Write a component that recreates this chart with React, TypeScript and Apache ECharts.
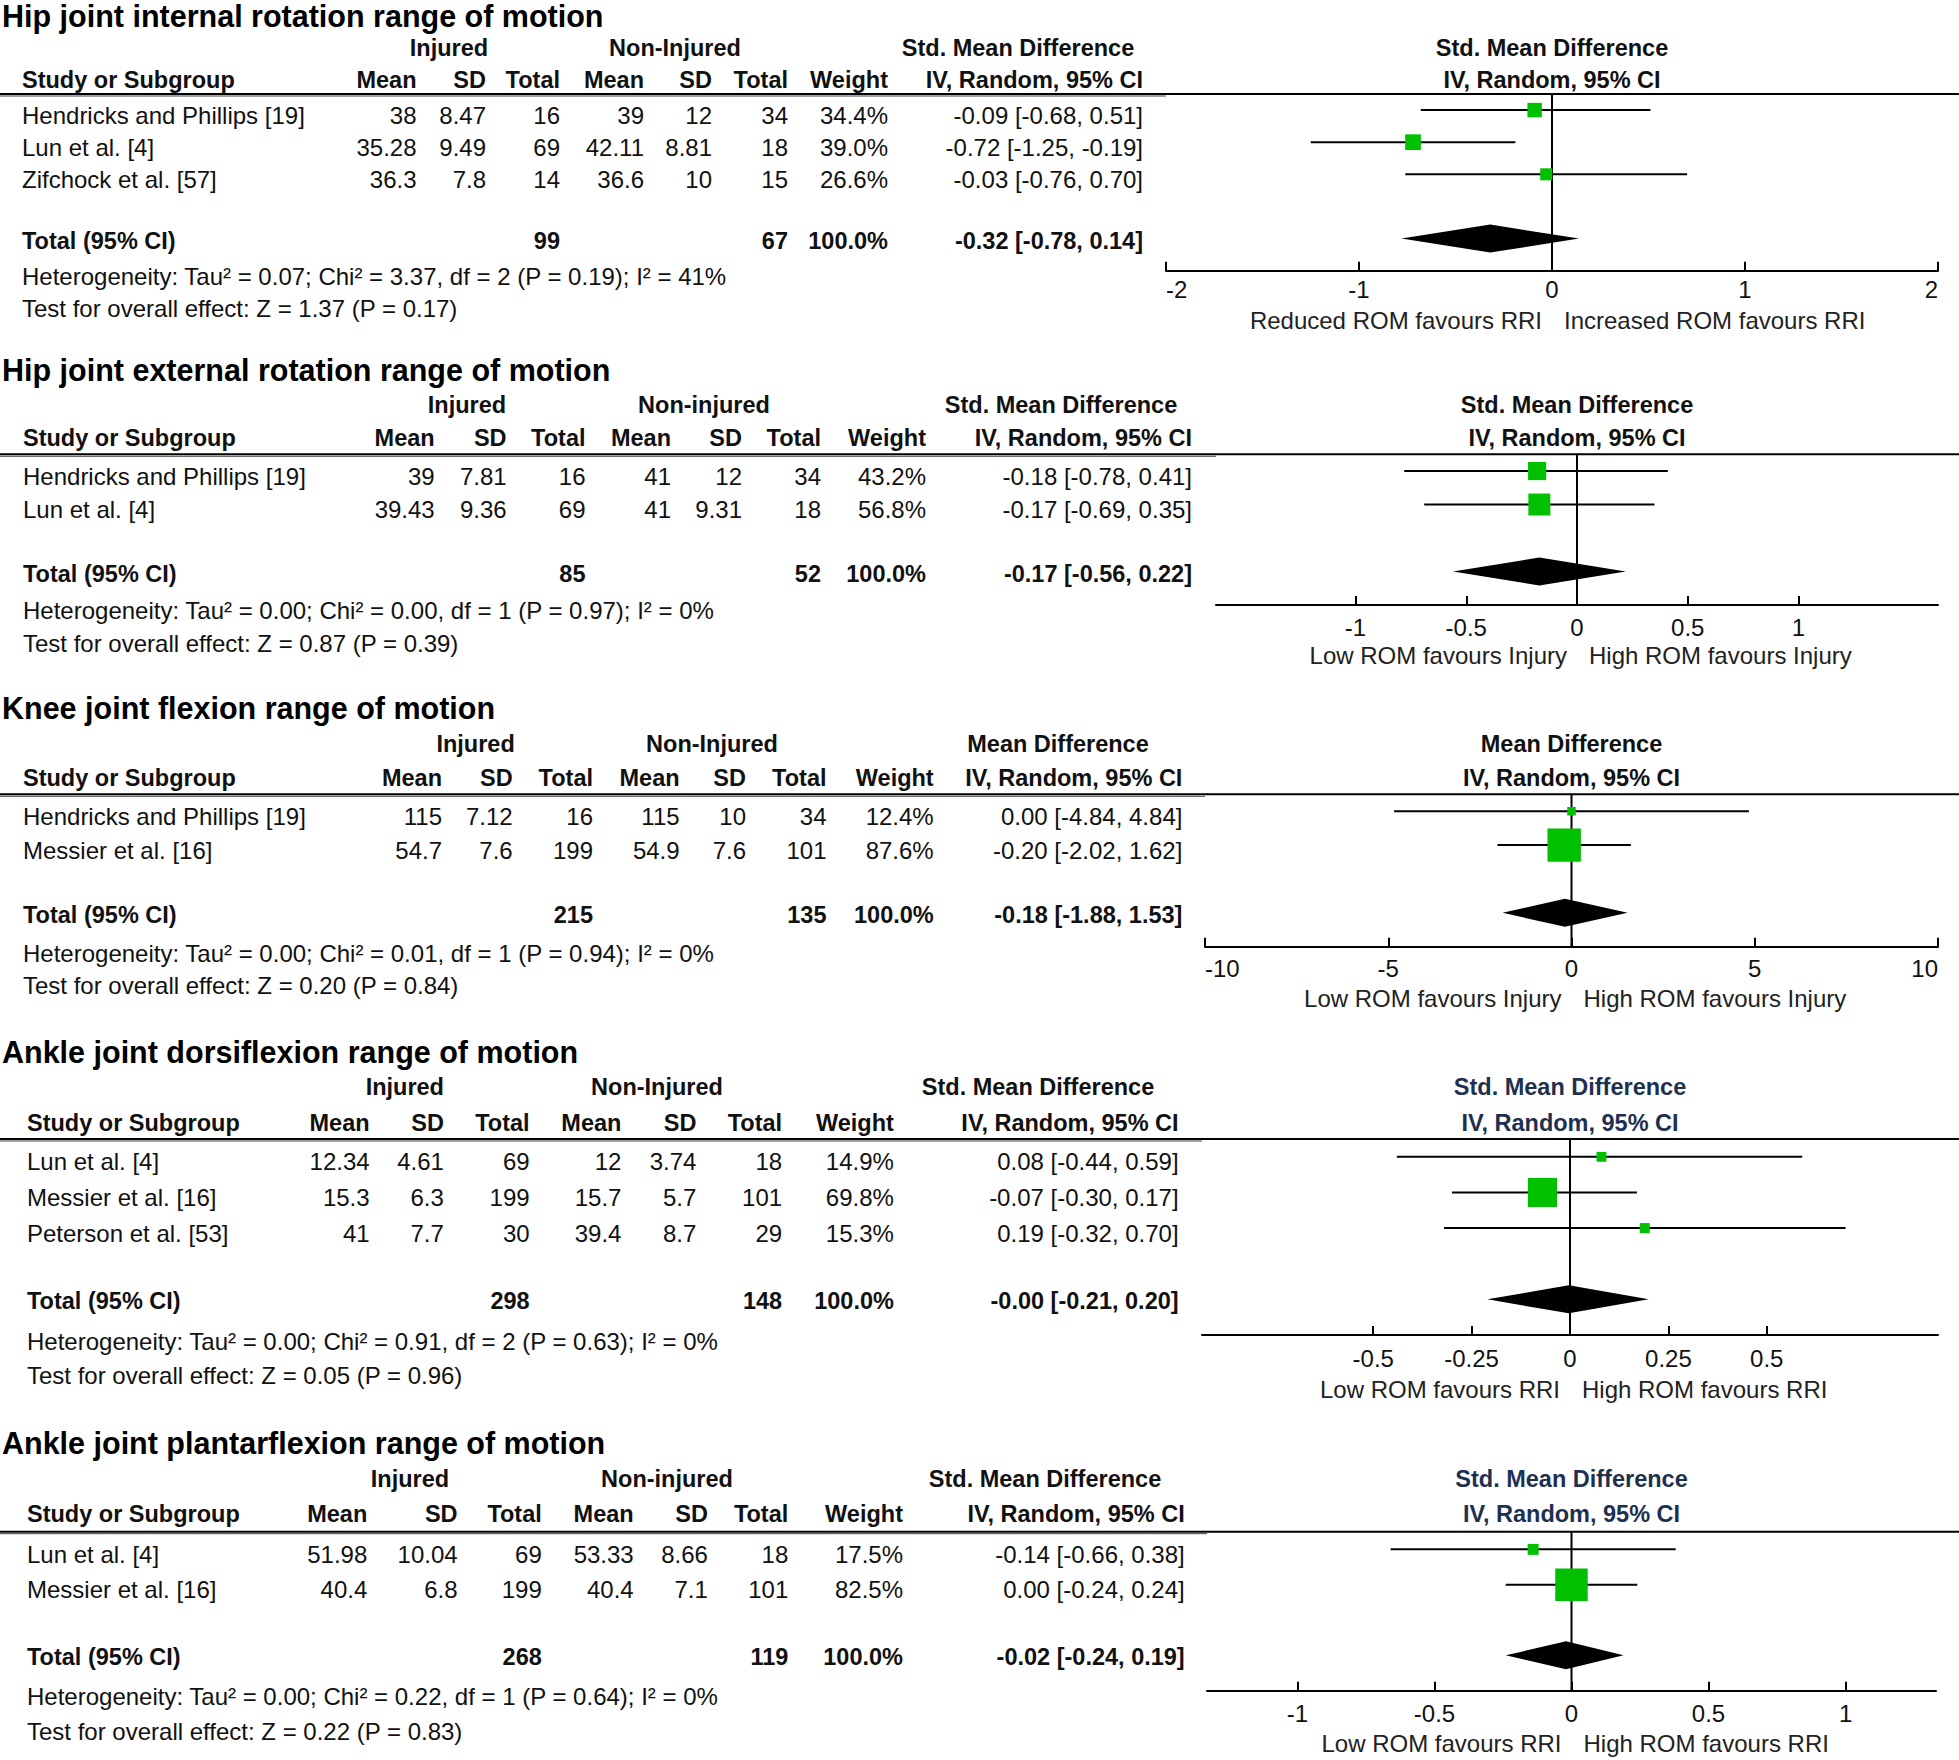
import React, { useEffect, useRef } from 'react';
import * as echarts from 'echarts';

const FONT = '"Liberation Sans", Arial, Helvetica, sans-serif';
const W = 1959;
const H = 1760;

// ---------- Panel 1: hip internal rotation ----------
const p1Title = 'Hip joint internal rotation range of motion';
const p1Groups = ['Injured', 'Non-Injured'];
const p1Effect = 'Std. Mean Difference';
const p1Studies = ['Hendricks and Phillips [19]', 'Lun et al. [4]', 'Zifchock et al. [57]'];
const p1InjMean = ['38', '35.28', '36.3'];
const p1InjSD = ['8.47', '9.49', '7.8'];
const p1InjN = [16, 69, 14];
const p1CtlMean = ['39', '42.11', '36.6'];
const p1CtlSD = ['12', '8.81', '10'];
const p1CtlN = [34, 18, 15];
const p1Weight = [34.4, 39.0, 26.6];
const p1Est = [-0.09, -0.72, -0.03];
const p1Lo = [-0.68, -1.25, -0.76];
const p1Hi = [0.51, -0.19, 0.7];
const p1Total = [-0.32, -0.78, 0.14];
const p1TotalN = [99, 67];
const p1Het = 'Heterogeneity: Tau² = 0.07; Chi² = 3.37, df = 2 (P = 0.19); I² = 41%';
const p1Test = 'Test for overall effect: Z = 1.37 (P = 0.17)';
const p1Favours = ['Reduced ROM favours RRI', 'Increased ROM favours RRI'];
const p1Ticks = [-2, -1, 0, 1, 2];

// ---------- Panel 2: hip external rotation ----------
const p2Title = 'Hip joint external rotation range of motion';
const p2Groups = ['Injured', 'Non-injured'];
const p2Effect = 'Std. Mean Difference';
const p2Studies = ['Hendricks and Phillips [19]', 'Lun et al. [4]'];
const p2InjMean = ['39', '39.43'];
const p2InjSD = ['7.81', '9.36'];
const p2InjN = [16, 69];
const p2CtlMean = ['41', '41'];
const p2CtlSD = ['12', '9.31'];
const p2CtlN = [34, 18];
const p2Weight = [43.2, 56.8];
const p2Est = [-0.18, -0.17];
const p2Lo = [-0.78, -0.69];
const p2Hi = [0.41, 0.35];
const p2Total = [-0.17, -0.56, 0.22];
const p2TotalN = [85, 52];
const p2Het = 'Heterogeneity: Tau² = 0.00; Chi² = 0.00, df = 1 (P = 0.97); I² = 0%';
const p2Test = 'Test for overall effect: Z = 0.87 (P = 0.39)';
const p2Favours = ['Low ROM favours Injury', 'High ROM favours Injury'];
const p2Ticks = [-1, -0.5, 0, 0.5, 1];

// ---------- Panel 3: knee flexion ----------
const p3Title = 'Knee joint flexion range of motion';
const p3Groups = ['Injured', 'Non-Injured'];
const p3Effect = 'Mean Difference';
const p3Studies = ['Hendricks and Phillips [19]', 'Messier et al. [16]'];
const p3InjMean = ['115', '54.7'];
const p3InjSD = ['7.12', '7.6'];
const p3InjN = [16, 199];
const p3CtlMean = ['115', '54.9'];
const p3CtlSD = ['10', '7.6'];
const p3CtlN = [34, 101];
const p3Weight = [12.4, 87.6];
const p3Est = [0.0, -0.2];
const p3Lo = [-4.84, -2.02];
const p3Hi = [4.84, 1.62];
const p3Total = [-0.18, -1.88, 1.53];
const p3TotalN = [215, 135];
const p3Het = 'Heterogeneity: Tau² = 0.00; Chi² = 0.01, df = 1 (P = 0.94); I² = 0%';
const p3Test = 'Test for overall effect: Z = 0.20 (P = 0.84)';
const p3Favours = ['Low ROM favours Injury', 'High ROM favours Injury'];
const p3Ticks = [-10, -5, 0, 5, 10];

// ---------- Panel 4: ankle dorsiflexion ----------
const p4Title = 'Ankle joint dorsiflexion range of motion';
const p4Groups = ['Injured', 'Non-Injured'];
const p4Effect = 'Std. Mean Difference';
const p4Studies = ['Lun et al. [4]', 'Messier et al. [16]', 'Peterson et al. [53]'];
const p4InjMean = ['12.34', '15.3', '41'];
const p4InjSD = ['4.61', '6.3', '7.7'];
const p4InjN = [69, 199, 30];
const p4CtlMean = ['12', '15.7', '39.4'];
const p4CtlSD = ['3.74', '5.7', '8.7'];
const p4CtlN = [18, 101, 29];
const p4Weight = [14.9, 69.8, 15.3];
const p4Est = [0.08, -0.07, 0.19];
const p4Lo = [-0.44, -0.3, -0.32];
const p4Hi = [0.59, 0.17, 0.7];
const p4Total = [-0.003, -0.21, 0.2];
const p4TotalN = [298, 148];
const p4Het = 'Heterogeneity: Tau² = 0.00; Chi² = 0.91, df = 2 (P = 0.63); I² = 0%';
const p4Test = 'Test for overall effect: Z = 0.05 (P = 0.96)';
const p4Favours = ['Low ROM favours RRI', 'High ROM favours RRI'];
const p4Ticks = [-0.5, -0.25, 0, 0.25, 0.5];

// ---------- Panel 5: ankle plantarflexion ----------
const p5Title = 'Ankle joint plantarflexion range of motion';
const p5Groups = ['Injured', 'Non-injured'];
const p5Effect = 'Std. Mean Difference';
const p5Studies = ['Lun et al. [4]', 'Messier et al. [16]'];
const p5InjMean = ['51.98', '40.4'];
const p5InjSD = ['10.04', '6.8'];
const p5InjN = [69, 199];
const p5CtlMean = ['53.33', '40.4'];
const p5CtlSD = ['8.66', '7.1'];
const p5CtlN = [18, 101];
const p5Weight = [17.5, 82.5];
const p5Est = [-0.14, 0.0];
const p5Lo = [-0.66, -0.24];
const p5Hi = [0.38, 0.24];
const p5Total = [-0.02, -0.24, 0.19];
const p5TotalN = [268, 119];
const p5Het = 'Heterogeneity: Tau² = 0.00; Chi² = 0.22, df = 1 (P = 0.64); I² = 0%';
const p5Test = 'Test for overall effect: Z = 0.22 (P = 0.83)';
const p5Favours = ['Low ROM favours RRI', 'High ROM favours RRI'];
const p5Ticks = [-1, -0.5, 0, 0.5, 1];

// ---------- layout (positions / styles only) ----------
const layouts = [
  { titleY: 16, h1Y: 48, h2Y: 80, lineY: 94, axisY: 270.7, gridL: 1166, gridR: 1938, xMin: -2, xMax: 2, alignEnds: true, hetY: 276, testY: 308, favY: 320, textL: 22, cols: [416.5, 486, 560, 644, 712, 788, 888, 1143], h1X: [449, 675, 1018], labelMargin: 7, boxScale: 1.21, headColor: '#111' },
  { titleY: 370, h1Y: 405, h2Y: 438, lineY: 454.3, axisY: 605, gridL: 1216, gridR: 1938, xMin: -1.63, xMax: 1.63, alignEnds: false, hetY: 610, testY: 643.3, favY: 655, textL: 23, cols: [434.7, 506.6, 585.5, 671, 742, 821, 926, 1192], h1X: [467, 704, 1061], labelMargin: 10, boxScale: 1.3, headColor: '#111' },
  { titleY: 708, h1Y: 744.3, h2Y: 778.3, lineY: 794.3, axisY: 946.7, gridL: 1205, gridR: 1938, xMin: -10, xMax: 10, alignEnds: true, hetY: 953.3, testY: 985, favY: 998.3, textL: 23, cols: [442, 512.7, 593, 679.6, 746, 826.5, 933.7, 1182.4], h1X: [475.6, 712, 1058], labelMargin: 10, boxScale: 1.46, headColor: '#111' },
  { titleY: 1052, h1Y: 1087.3, h2Y: 1122.7, lineY: 1139, axisY: 1335, gridL: 1202, gridR: 1938, xMin: -0.935, xMax: 0.935, alignEnds: false, hetY: 1341.7, testY: 1375, favY: 1389, textL: 27, cols: [369.6, 443.9, 529.6, 621.4, 696.4, 782.1, 893.9, 1178.6], h1X: [404.8, 657, 1038], labelMargin: 11, boxScale: 1.49, headColor: '#1e3050' },
  { titleY: 1443, h1Y: 1479.3, h2Y: 1514, lineY: 1531.7, axisY: 1690.7, gridL: 1207, gridR: 1936, xMin: -1.33, xMax: 1.33, alignEnds: false, hetY: 1696, testY: 1731.7, favY: 1743.3, textL: 27, cols: [367.3, 457.6, 541.8, 633.7, 707.9, 788.3, 903, 1184.7], h1X: [410, 667, 1045], labelMargin: 11, boxScale: 1.48, headColor: '#1e3050' },
];

const panels = [
  { title: p1Title, groups: p1Groups, effect: p1Effect, studies: p1Studies, injMean: p1InjMean, injSD: p1InjSD, injN: p1InjN, ctlMean: p1CtlMean, ctlSD: p1CtlSD, ctlN: p1CtlN, weight: p1Weight, est: p1Est, lo: p1Lo, hi: p1Hi, total: p1Total, totalN: p1TotalN, het: p1Het, test: p1Test, favours: p1Favours, ticks: p1Ticks },
  { title: p2Title, groups: p2Groups, effect: p2Effect, studies: p2Studies, injMean: p2InjMean, injSD: p2InjSD, injN: p2InjN, ctlMean: p2CtlMean, ctlSD: p2CtlSD, ctlN: p2CtlN, weight: p2Weight, est: p2Est, lo: p2Lo, hi: p2Hi, total: p2Total, totalN: p2TotalN, het: p2Het, test: p2Test, favours: p2Favours, ticks: p2Ticks },
  { title: p3Title, groups: p3Groups, effect: p3Effect, studies: p3Studies, injMean: p3InjMean, injSD: p3InjSD, injN: p3InjN, ctlMean: p3CtlMean, ctlSD: p3CtlSD, ctlN: p3CtlN, weight: p3Weight, est: p3Est, lo: p3Lo, hi: p3Hi, total: p3Total, totalN: p3TotalN, het: p3Het, test: p3Test, favours: p3Favours, ticks: p3Ticks },
  { title: p4Title, groups: p4Groups, effect: p4Effect, studies: p4Studies, injMean: p4InjMean, injSD: p4InjSD, injN: p4InjN, ctlMean: p4CtlMean, ctlSD: p4CtlSD, ctlN: p4CtlN, weight: p4Weight, est: p4Est, lo: p4Lo, hi: p4Hi, total: p4Total, totalN: p4TotalN, het: p4Het, test: p4Test, favours: p4Favours, ticks: p4Ticks },
  { title: p5Title, groups: p5Groups, effect: p5Effect, studies: p5Studies, injMean: p5InjMean, injSD: p5InjSD, injN: p5InjN, ctlMean: p5CtlMean, ctlSD: p5CtlSD, ctlN: p5CtlN, weight: p5Weight, est: p5Est, lo: p5Lo, hi: p5Hi, total: p5Total, totalN: p5TotalN, het: p5Het, test: p5Test, favours: p5Favours, ticks: p5Ticks },
];

const fmt2 = (v: number) => (v < 0 ? '-' : '') + Math.abs(v).toFixed(2);
const ciText = (e: number, l: number, h: number) => `${fmt2(e)} [${fmt2(l)}, ${fmt2(h)}]`;

function txt(x: number, y: number, text: string, o: any = {}) {
  return {
    type: 'text',
    x,
    y,
    silent: true,
    z: 10,
    style: {
      text,
      fontFamily: FONT,
      fontSize: o.size ?? 24,
      fontWeight: o.bold ? 'bold' : 'normal',
      fill: o.color ?? '#111',
      align: o.align ?? 'left',
      verticalAlign: 'middle',
    },
  };
}

function buildOption() {
  const grid: any[] = [];
  const xAxis: any[] = [];
  const yAxis: any[] = [];
  const series: any[] = [];
  const graphic: any[] = [];

  panels.forEach((p, i) => {
    const L = layouts[i];
    const n = p.studies.length;
    const yMax = n + 2;
    const rowH = (L.axisY - L.lineY) / (n + 2.5);
    const gridW = L.gridR - L.gridL;
    const zeroX = L.gridL + ((0 - L.xMin) / (L.xMax - L.xMin)) * gridW;
    const gridC = L.gridL + gridW / 2;

    grid.push({ left: L.gridL, top: L.lineY, width: gridW, height: L.axisY - L.lineY, containLabel: false });
    xAxis.push({
      type: 'value',
      gridIndex: i,
      min: L.xMin,
      max: L.xMax,
      position: 'bottom',
      axisLine: { show: true, onZero: false, lineStyle: { color: '#000', width: 2 } },
      axisTick: { show: true, inside: true, length: 9, customValues: p.ticks, lineStyle: { color: '#000', width: 2 } },
      axisLabel: {
        show: true,
        customValues: p.ticks,
        fontFamily: FONT,
        fontSize: 24,
        color: '#111',
        margin: L.labelMargin,
        formatter: (v: number) => String(v),
        alignMinLabel: L.alignEnds ? 'left' : undefined,
        alignMaxLabel: L.alignEnds ? 'right' : undefined,
      },
      splitLine: { show: false },
    });
    yAxis.push({ type: 'value', gridIndex: i, min: -0.5, max: yMax, inverse: true, show: false });

    // zero reference line
    series.push({
      type: 'custom',
      xAxisIndex: i,
      yAxisIndex: i,
      z: 1,
      silent: true,
      data: [[0, -0.5, yMax]],
      encode: { x: 0, y: [1, 2] },
      renderItem: (params: any, api: any) => {
        const a = api.coord([api.value(0), api.value(1)]);
        const b = api.coord([api.value(0), api.value(2)]);
        return { type: 'line', shape: { x1: a[0], y1: a[1], x2: b[0], y2: b[1] }, style: { stroke: '#000', lineWidth: 2 } };
      },
    });

    // study CIs and weight boxes
    const studyData = p.est.map((e, r) => [e, r, p.lo[r], p.hi[r], p.weight[r]]);
    const scale = L.boxScale;
    series.push({
      type: 'custom',
      xAxisIndex: i,
      yAxisIndex: i,
      z: 3,
      silent: true,
      data: studyData,
      encode: { x: [0, 2, 3], y: 1 },
      renderItem: (params: any, api: any) => {
        const e = api.value(0);
        const slot = api.value(1);
        const lo = api.value(2);
        const hi = api.value(3);
        const w = api.value(4);
        const pl = api.coord([lo, slot]);
        const ph = api.coord([hi, slot]);
        const pe = api.coord([e, slot]);
        const side = scale * Math.pow(w, 0.7);
        return {
          type: 'group',
          children: [
            { type: 'line', shape: { x1: pl[0], y1: pl[1], x2: ph[0], y2: ph[1] }, style: { stroke: '#000', lineWidth: 2 } },
            { type: 'rect', shape: { x: pe[0] - side / 2, y: pe[1] - side / 2, width: side, height: side }, style: { fill: '#00c000' } },
          ],
        };
      },
    });

    // pooled diamond
    series.push({
      type: 'custom',
      xAxisIndex: i,
      yAxisIndex: i,
      z: 4,
      silent: true,
      data: [[p.total[0], n + 1, p.total[1], p.total[2]]],
      encode: { x: [0, 2, 3], y: 1 },
      renderItem: (params: any, api: any) => {
        const slot = api.value(1);
        const pe = api.coord([api.value(0), slot]);
        const pl = api.coord([api.value(2), slot]);
        const ph = api.coord([api.value(3), slot]);
        const hh = 14;
        return {
          type: 'polygon',
          shape: { points: [[pl[0], pl[1]], [pe[0], pe[1] - hh], [ph[0], ph[1]], [pe[0], pe[1] + hh]] },
          style: { fill: '#000' },
        };
      },
    });

    // ---- table texts ----
    const HB = 23.5;
    graphic.push(txt(2, L.titleY, p.title, { bold: true, size: 30.5, color: '#000' }));
    graphic.push(txt(L.h1X[0], L.h1Y, p.groups[0], { bold: true, align: 'center', size: HB }));
    graphic.push(txt(L.h1X[1], L.h1Y, p.groups[1], { bold: true, align: 'center', size: HB }));
    graphic.push(txt(L.h1X[2], L.h1Y, p.effect, { bold: true, align: 'center', size: HB }));
    graphic.push(txt(L.textL, L.h2Y, 'Study or Subgroup', { bold: true, size: HB }));
    const heads = ['Mean', 'SD', 'Total', 'Mean', 'SD', 'Total', 'Weight', 'IV, Random, 95% CI'];
    heads.forEach((h, k) => graphic.push(txt(L.cols[k], L.h2Y, h, { bold: true, align: 'right', size: HB })));
    // plot headers
    graphic.push(txt(gridC, L.h1Y, p.effect, { bold: true, align: 'center', color: L.headColor, size: HB }));
    graphic.push(txt(gridC, L.h2Y, 'IV, Random, 95% CI', { bold: true, align: 'center', color: L.headColor, size: HB }));
    // header rule
    graphic.push({ type: 'line', silent: true, z: 10, shape: { x1: 0, y1: L.lineY, x2: W, y2: L.lineY }, style: { stroke: '#000', lineWidth: 2 } });
    graphic.push({ type: 'line', silent: true, z: 10, shape: { x1: 0, y1: L.lineY + 2, x2: L.gridL, y2: L.lineY + 2 }, style: { stroke: '#444', lineWidth: 1 } });

    p.studies.forEach((s, r) => {
      const y = L.lineY + (r + 0.5) * rowH + 5;
      const cells = [p.injMean[r], p.injSD[r], String(p.injN[r]), p.ctlMean[r], p.ctlSD[r], String(p.ctlN[r]), p.weight[r].toFixed(1) + '%', ciText(p.est[r], p.lo[r], p.hi[r])];
      graphic.push(txt(L.textL, y, s));
      cells.forEach((c, k) => graphic.push(txt(L.cols[k], y, c, { align: 'right' })));
    });
    const ty = L.lineY + (n + 1.5) * rowH + 2;
    graphic.push(txt(L.textL, ty, 'Total (95% CI)', { bold: true, size: HB }));
    graphic.push(txt(L.cols[2], ty, String(p.totalN[0]), { bold: true, align: 'right', size: HB }));
    graphic.push(txt(L.cols[5], ty, String(p.totalN[1]), { bold: true, align: 'right', size: HB }));
    const wSum = p.weight.reduce((a, b) => a + b, 0);
    graphic.push(txt(L.cols[6], ty, wSum.toFixed(1) + '%', { bold: true, align: 'right', size: HB }));
    graphic.push(txt(L.cols[7], ty, ciText(p.total[0], p.total[1], p.total[2]), { bold: true, align: 'right', size: HB }));
    graphic.push(txt(L.textL, L.hetY, p.het));
    graphic.push(txt(L.textL, L.testY, p.test));
    graphic.push(txt(zeroX - 10, L.favY, p.favours[0], { align: 'right', color: '#222' }));
    graphic.push(txt(zeroX + 12, L.favY, p.favours[1], { align: 'left', color: '#222' }));
  });

  return {
    animation: false,
    backgroundColor: '#ffffff',
    grid,
    xAxis,
    yAxis,
    series,
    graphic: { elements: graphic },
  };
}

export default function App() {
  const ref = useRef<HTMLDivElement>(null);
  useEffect(() => {
    if (!ref.current) return;
    const chart = echarts.init(ref.current, undefined, { renderer: 'svg', width: W, height: H });
    chart.setOption(buildOption() as any);
    return () => chart.dispose();
  }, []);
  return <div ref={ref} style={{ position: 'absolute', left: 0, top: 0, width: W, height: H, background: '#fff' }} />;
}
